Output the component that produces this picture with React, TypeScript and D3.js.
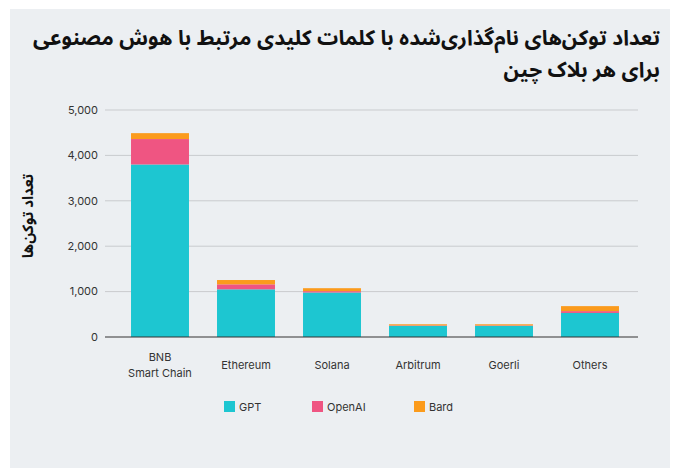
import React, { useEffect, useRef } from "react";
import * as d3 from "d3";

const chains = ["BNB\nSmart Chain", "Ethereum", "Solana", "Arbitrum", "Goerli", "Others"];
const gpt = [3800, 1050, 980, 245, 245, 530];
const openai = [560, 110, 30, 10, 10, 40];
const bard = [130, 95, 65, 25, 25, 110];
const seriesNames = ["GPT", "OpenAI", "Bard"];
const seriesColors = ["#1dc6d1", "#ef5582", "#fb9b1c"];
const yTicks = [0, 1000, 2000, 3000, 4000, 5000];
const titleLines = ["تعداد توکن‌های نام‌گذاری‌شده با کلمات کلیدی مرتبط با هوش مصنوعی", "برای هر بلاک چین"];
const yTitle = "تعداد توکن‌ها";

const W = 678;
const H = 468;
const latin = "Inter, 'Open Sans', sans-serif";
const persian = "'Noto Sans Arabic', 'DejaVu Sans', sans-serif";

const App = () => {
  const ref = useRef<SVGSVGElement>(null);

  useEffect(() => {
    const svg = d3.select(ref.current);
    svg.selectAll("*").remove();

    // panel background
    svg.append("rect").attr("x", 10).attr("y", 9).attr("width", 660).attr("height", H - 9).attr("fill", "#eceff2");

    // title
    svg
      .append("g")
      .selectAll("text")
      .data(titleLines)
      .join("text")
      .attr("x", 660)
      .attr("y", (d, i) => 45 + i * 32)
      .attr("direction", "rtl")
      .attr("text-anchor", "start")
      .attr("font-family", persian)
      .attr("font-weight", "bold")
      .attr("font-size", 21)
      .attr("fill", "#111")
      .text((d) => d);

    const table = chains.map((c, i) => ({ chain: c, GPT: gpt[i], OpenAI: openai[i], Bard: bard[i] }));
    const stacked = d3.stack<any>().keys(seriesNames)(table);

    const x = d3.scaleBand().domain(chains).range([117, 633]).paddingInner(0.326).paddingOuter(0.163);
    const y = d3.scaleLinear().domain([0, 5000]).range([337, 110]);

    // grid
    svg
      .append("g")
      .selectAll("line")
      .data(yTicks.filter((t) => t > 0))
      .join("line")
      .attr("x1", 105)
      .attr("x2", 638)
      .attr("y1", (d) => y(d))
      .attr("y2", (d) => y(d))
      .attr("stroke", "#c9cbce")
      .attr("stroke-width", 1);

    svg
      .append("g")
      .selectAll("text")
      .data(yTicks)
      .join("text")
      .attr("x", 98)
      .attr("y", (d) => y(d))
      .attr("dy", "0.35em")
      .attr("text-anchor", "end")
      .attr("font-family", latin)
      .attr("font-size", 11)
      .attr("fill", "#333")
      .text((d) => d3.format(",")(d));

    // bars
    svg
      .append("g")
      .selectAll("g")
      .data(stacked)
      .join("g")
      .attr("fill", (d, i) => seriesColors[i])
      .selectAll("rect")
      .data((d) => d)
      .join("rect")
      .attr("x", (d) => x(d.data.chain)!)
      .attr("width", x.bandwidth())
      .attr("y", (d) => y(d[1]))
      .attr("height", (d) => y(d[0]) - y(d[1]));

    // baseline
    svg.append("line").attr("x1", 105).attr("x2", 638).attr("y1", y(0)).attr("y2", y(0)).attr("stroke", "#333").attr("stroke-width", 1.2);

    // x labels
    const xl = svg
      .append("g")
      .selectAll("text")
      .data(chains)
      .join("text")
      .attr("x", (d) => x(d)! + x.bandwidth() / 2)
      .attr("y", (d) => (d.includes("\n") ? 361 : 369))
      .attr("text-anchor", "middle")
      .attr("font-family", latin)
      .attr("font-size", 11)
      .attr("fill", "#333");
    xl.selectAll("tspan")
      .data((d) => d.split("\n"))
      .join("tspan")
      .attr("x", function () {
        return (this.parentNode as SVGTextElement).getAttribute("x");
      })
      .attr("dy", (d, i) => (i === 0 ? 0 : 16))
      .text((d) => d);

    // y title
    svg
      .append("text")
      .attr("transform", "translate(33,216) rotate(-90)")
      .attr("text-anchor", "middle")
      .attr("direction", "rtl")
      .attr("font-family", persian)
      .attr("font-weight", "bold")
      .attr("font-size", 15)
      .attr("fill", "#111")
      .text(yTitle);

    // legend
    const legendX = [224, 312, 414];
    const lg = svg
      .append("g")
      .selectAll("g")
      .data(seriesNames)
      .join("g")
      .attr("transform", (d, i) => `translate(${legendX[i]},401)`);
    lg.append("rect").attr("width", 11).attr("height", 11).attr("fill", (d, i) => seriesColors[i]);
    lg.append("text")
      .attr("x", 15)
      .attr("y", 6)
      .attr("dy", "0.35em")
      .attr("font-family", latin)
      .attr("font-size", 11)
      .attr("fill", "#333")
      .text((d) => d);
  }, []);

  return <svg ref={ref} width={W} height={H} style={{ position: "absolute", left: 0, top: 0 }}></svg>;
};

export default App;
